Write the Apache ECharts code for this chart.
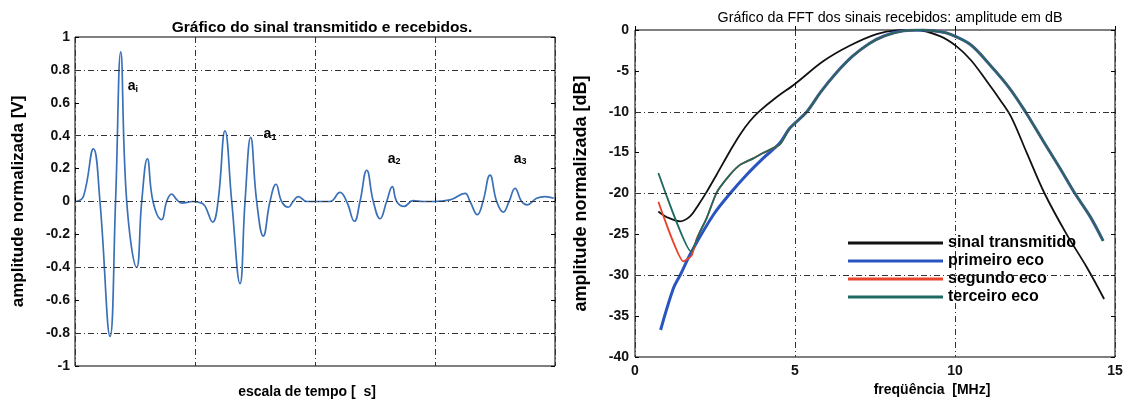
<!DOCTYPE html>
<html><head><meta charset="utf-8">
<script src="https://cdn.jsdelivr.net/npm/echarts@6/dist/echarts.min.js"></script>
<style>html,body{margin:0;padding:0;background:#fff}#c{width:1135px;height:401px}</style>
</head><body><div id="c"></div>
<script>
// ---- Left chart: transmitted + received signal (time domain) ----
const timeUs = [0.1,0.7,1.53,2.08,2.92,3.38,3.81,4.31,5.14,5.56,6.03,6.5,7.22,7.64,8.05,8.5,8.89,9.83,10.56,10.85,11.47,11.92,12.5,13.06,13.75,14.17,14.64,15.14,15.69,16.25,16.75,17.22,17.78,18.17,18.61,19.31,19.83,21.25,22.08,22.64,23.28,23.75,24.31,24.86,25.42,25.97,26.44,26.81,27.42,28.17,29.0,29.83,31.25,32.5,32.92,33.53,34.0,34.58,35.14,35.69,36.17,36.67,37.22,37.69,38.47,39.17,39.9];
const amplitude = [0,0.03,0.32,0,-0.82,0,0.91,0,-0.40,0,0.26,0,-0.11,0,0.045,0.01,-0.01,0,-0.01,-0.03,-0.125,0,0.43,0,-0.50,0,0.39,0,-0.21,0,0.105,0,-0.035,0,0.03,0,0,0,0.055,0,-0.12,0,0.19,0,-0.105,0,0.09,0,-0.03,0.005,0,0,0.01,0.05,0,-0.08,0,0.16,0,-0.065,0,0.08,0,-0.02,0.02,0.03,0.02];
const leftTicksY = [-1,1,0.2];            // min, max, step
const leftGridY = [-0.8,-0.4,0,0.4,0.8];
const echoTags = ['i','1','2','3'];
const echoTagT = [4.83,16.25,26.6,37.1];
const echoTagV = [0.70,0.41,0.26,0.26];

// ---- Right chart: FFT of received signals (dB) ----
const seriesNames = ['sinal transmitido','primeiro eco','segundo eco','terceiro eco'];
const txFreq = [0.73,1.0,1.41,1.72,1.98,2.24,2.55,2.97,3.28,3.6,3.9,4.43,5.0,5.89,6.72,7.55,8.18,8.8,9.53,10.05,10.5,11.0,11.4,11.75,12.24,12.8,13.49,14.1,14.66];
const txDb   = [-22.2,-22.9,-23.4,-22.8,-21.4,-19.8,-17.7,-14.8,-12.8,-11.1,-9.9,-8.2,-6.6,-3.8,-1.9,-0.5,-0.05,0,-0.75,-2.0,-3.7,-6.3,-8.5,-10.6,-15,-20,-25.0,-28.9,-32.9];
const eco1Freq = [0.8,1.2,1.41,1.77,2.45,2.97,3.49,4.0,4.53,4.84,5.37,5.8,6.3,6.8,7.3,7.8,8.4,9.0,9.5,9.84,10.47,11.1,11.7,12.2,12.76,13.28,13.75,14.22,14.63];
const eco1Db   = [-36.7,-31.6,-30,-27.1,-22.6,-20,-17.7,-15.7,-13.8,-12.0,-10,-7.6,-5.2,-3.2,-1.7,-0.7,-0.1,0,-0.2,-0.5,-1.75,-4.3,-7.1,-10,-13.6,-16.9,-20,-22.8,-25.8];
const eco2Freq = [0.73,1.51,1.77,1.93,2.24,2.55,2.97,3.28,3.7,4.0,4.53,4.84,5.37,5.8,6.3,6.8,7.3,7.8,8.4,9.0,9.5,9.84,10.47,11.1,11.7,12.2,12.76,13.28,13.75,14.22,14.63];
const eco2Db   = [-21.0,-28.3,-27.6,-25.5,-23.0,-19.9,-17.7,-16.5,-15.7,-15.05,-14.0,-12.0,-10,-7.6,-5.2,-3.2,-1.7,-0.7,-0.1,0,-0.2,-0.5,-1.75,-4.3,-7.1,-10,-13.6,-16.9,-20,-22.8,-25.8];
const eco3Freq = [0.73,1.75,2.03,2.24,2.55,2.97,3.28,3.7,4.0,4.53,4.84,5.37,5.8,6.3,6.8,7.3,7.8,8.4,9.0,9.5,9.84,10.47,11.1,11.7,12.2,12.76,13.28,13.75,14.22,14.63];
const eco3Db   = [-17.5,-27.1,-24.7,-23.0,-19.9,-17.7,-16.5,-15.7,-15.05,-14.0,-12.0,-10,-7.6,-5.2,-3.2,-1.7,-0.7,-0.1,0,-0.2,-0.5,-1.75,-4.3,-7.1,-10,-13.6,-16.9,-20,-22.8,-25.8];
const rightGridY = [-10,-20,-30];

const zip = (a,b) => a.map((v,i)=>[v,b[i]]);
const FONT = '"Liberation Sans", Arial, sans-serif';
const gridLine = {color:'#333', width:1, type:[6,3,1,3]};
const tickStyle = {inside:true, length:4, lineStyle:{color:'#000'}};
const tickLabel = {fontSize:14, fontWeight:'bold', color:'#111', fontFamily:FONT};

const chart = echarts.init(document.getElementById('c'), null, {renderer:'canvas'});
chart.setOption({
  animation:false,
  textStyle:{fontFamily:FONT},
  title:[
    {text:'Gráfico do sinal transmitido e recebidos.', left:317, top:15, textAlign:'center',
     textStyle:{fontSize:15.5, fontWeight:'bold', color:'#000', fontFamily:FONT}},
    {text:'Gráfico da FFT dos sinais recebidos: amplitude em dB', left:885, top:6, textAlign:'center',
     textStyle:{fontSize:14.3, fontWeight:'normal', color:'#000', fontFamily:FONT}}
  ],
  grid:[
    {left:75, right:580, top:37, bottom:35, outerBoundsMode:'none', containLabel:false,
     show:true, borderColor:'#000', borderWidth:1, backgroundColor:'transparent'},
    {left:635, right:20, top:30, bottom:44, outerBoundsMode:'none', containLabel:false,
     show:true, borderColor:'#000', borderWidth:1, backgroundColor:'transparent'}
  ],
  legend:{
    data:seriesNames, orient:'vertical', left:843, top:230,
    icon:'rect', itemWidth:95, itemHeight:3, itemGap:2,
    textStyle:{fontSize:16, fontWeight:'bold', color:'#000', fontFamily:FONT}
  },
  xAxis:[
    {gridIndex:0, type:'value', min:0, max:40, interval:10,
     name:'escala de tempo [  s]', nameLocation:'middle', nameGap:19,
     nameTextStyle:{fontSize:14, fontWeight:'bold', color:'#000', fontFamily:FONT, padding:[0,16,0,0]},
     axisLine:{show:false}, axisTick:tickStyle, axisLabel:{show:false},
     splitLine:{show:true, lineStyle:gridLine}},
    {gridIndex:1, type:'value', min:0, max:15, interval:5,
     name:'freqüência  [MHz]', nameLocation:'middle', nameGap:22,
     nameTextStyle:{fontSize:14, fontWeight:'bold', color:'#000', fontFamily:FONT, padding:[0,0,0,114]},
     axisLine:{show:false}, axisTick:tickStyle,
     axisLabel:Object.assign({margin:7}, tickLabel),
     splitLine:{show:true, lineStyle:gridLine}}
  ],
  yAxis:[
    {gridIndex:0, type:'value', min:leftTicksY[0], max:leftTicksY[1], interval:leftTicksY[2],
     name:'amplitude normalizada [V]', nameLocation:'middle', nameGap:48,
     nameTextStyle:{fontSize:17, fontWeight:'bold', color:'#000', fontFamily:FONT},
     axisLine:{show:false}, axisTick:tickStyle,
     axisLabel:Object.assign({margin:5}, tickLabel),
     splitLine:{show:false}},
    {gridIndex:0, type:'value', position:'right', min:leftTicksY[0], max:leftTicksY[1], interval:leftTicksY[2],
     axisLine:{show:false}, axisTick:tickStyle, axisLabel:{show:false}, splitLine:{show:false}},
    {gridIndex:1, type:'value', min:-40, max:0, interval:5,
     name:'amplitude normalizada [dB]', nameLocation:'middle', nameGap:45,
     nameTextStyle:{fontSize:18, fontWeight:'bold', color:'#000', fontFamily:FONT},
     axisLine:{show:false}, axisTick:tickStyle,
     axisLabel:Object.assign({margin:6}, tickLabel),
     splitLine:{show:false}},
    {gridIndex:1, type:'value', position:'right', min:-40, max:0, interval:5,
     axisLine:{show:false}, axisTick:tickStyle, axisLabel:{show:false}, splitLine:{show:false}}
  ],
  series:[
    {type:'line', name:'sinal', xAxisIndex:0, yAxisIndex:0, data:zip(timeUs, amplitude),
     smooth:0.45, showSymbol:false, lineStyle:{color:'#3a70b8', width:1.7}, itemStyle:{color:'#3a70b8'},
     markLine:{silent:true, symbol:'none', label:{show:false}, lineStyle:gridLine,
       data:leftGridY.map(v=>({yAxis:v}))},
     markPoint:{silent:true, symbol:'circle', symbolSize:1, itemStyle:{color:'rgba(0,0,0,0)'},
       label:{show:true, position:'inside', formatter:p=>'{a|a}{s|'+p.name+'}',
         rich:{a:{fontSize:14, fontWeight:'bold', color:'#000', fontFamily:FONT},
               s:{fontSize:9, fontWeight:'bold', color:'#000', fontFamily:FONT, verticalAlign:'bottom', padding:[6,0,0,0]}}},
       data:echoTags.map((s,i)=>({name:s, coord:[echoTagT[i], echoTagV[i]]}))}},
    {type:'line', name:seriesNames[0], xAxisIndex:1, yAxisIndex:2, data:zip(txFreq, txDb),
     smooth:0.35, showSymbol:false, lineStyle:{color:'#111', width:1.8}, itemStyle:{color:'#111'},
     markLine:{silent:true, symbol:'none', label:{show:false}, lineStyle:gridLine,
       data:rightGridY.map(v=>({yAxis:v}))}},
    {type:'line', name:seriesNames[1], xAxisIndex:1, yAxisIndex:2, data:zip(eco1Freq, eco1Db),
     smooth:0.35, showSymbol:false, lineStyle:{color:'#2a55c0', width:3}, itemStyle:{color:'#2a55c0'}},
    {type:'line', name:seriesNames[2], xAxisIndex:1, yAxisIndex:2, data:zip(eco2Freq, eco2Db),
     smooth:0.15, showSymbol:false, lineStyle:{color:'#e8442a', width:1.8}, itemStyle:{color:'#e8442a'}},
    {type:'line', name:seriesNames[3], xAxisIndex:1, yAxisIndex:2, data:zip(eco3Freq, eco3Db),
     smooth:0.15, showSymbol:false, lineStyle:{color:'#1d6a62', width:1.8}, itemStyle:{color:'#1d6a62'}}
  ]
});
</script></body></html>
